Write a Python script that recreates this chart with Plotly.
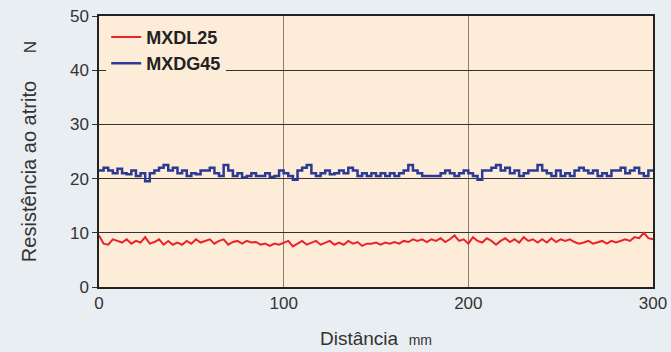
import plotly.graph_objects as go

distance = [i * 2.5 for i in range(121)]

mxdg45 = [21.5, 22, 21.5, 21, 21.8, 21, 20.8, 21.5, 20.5, 21, 19.5, 21, 21.5, 22, 22.5, 21.5,
          22, 21, 21.5, 20.5, 21, 20.8, 21.5, 21.5, 22, 21, 20.5, 22.5, 21.5, 20.5, 21, 20.2,
          20.5, 21, 20.5, 20.5, 21, 20.3, 20.5, 21.5, 21, 20.5, 19.8, 21.5, 22, 22.5, 21, 20.5,
          21, 21.5, 20.8, 21, 21.5, 21, 22, 21.5, 20.5, 21, 20.5, 21, 20.5, 21, 20.5, 21,
          20.5, 21, 21.5, 22.5, 21.5, 21, 20.5, 20.5, 20.5, 20.5, 21, 21.5, 21, 20.5, 21, 21.5,
          21, 20.5, 19.8, 21.5, 21.5, 22, 22.5, 21.5, 22, 21, 21.5, 20.5, 21, 21.5, 21.5, 22.5,
          21.5, 21, 20.5, 21.5, 20.5, 21, 20.5, 21.5, 22, 21.5, 21, 21.5, 20.5, 21, 20.5, 21.5,
          21.5, 22, 21, 21.5, 22, 21, 20.5, 21.5, 21.5]

mxdl25 = [9.5, 8, 7.8, 8.8, 8.5, 8.2, 8.8, 8, 8.5, 8.2, 9.2, 8, 8.3, 8.8, 7.8, 8.5,
          7.8, 8.2, 7.8, 8.5, 8, 8.8, 8.2, 8.5, 8.8, 8, 8.5, 8.8, 7.8, 8.3, 8.5, 8,
          8.5, 8.2, 8.3, 7.8, 8, 7.6, 8, 7.8, 8.2, 8.5, 7.5, 8, 8.5, 7.8, 8.2, 8.5,
          7.8, 8.2, 8.5, 7.8, 8.2, 7.8, 8.5, 8, 8.3, 7.6, 8, 8, 8.2, 7.8, 8.2, 8,
          8.3, 8, 8.5, 8.3, 8.8, 8.5, 8.8, 8.3, 8.8, 8.5, 9, 8.3, 8.8, 9.5, 8.5, 8.8,
          8, 9.2, 8.5, 8.2, 9, 8.5, 7.8, 8.5, 9, 8.3, 8.8, 8.2, 9.2, 8.5, 8.8, 8.2,
          8.8, 8.2, 9, 8.3, 8.8, 8.5, 8.8, 8.3, 8, 8.2, 8.5, 8, 8.3, 8.5, 8, 8.5,
          8.2, 8.5, 8.8, 8.5, 9.2, 9, 10, 9, 8.8]

x_ticks = [0, 100, 200, 300]
y_ticks = [0, 10, 20, 30, 40, 50]

FONT = "Liberation Sans Narrow, Liberation Sans, Arial, sans-serif"

fig = go.Figure()
fig.add_trace(go.Scatter(x=distance, y=mxdl25, mode="lines", name="<b>MXDL25</b>",
                         line=dict(color="#e8232a", width=2)))
fig.add_trace(go.Scatter(x=distance, y=mxdg45, mode="lines", name="<b>MXDG45</b>",
                         line=dict(color="#2b3a94", width=2.5, shape="hv")))

axis_font = dict(family=FONT, size=17, color="#333333")

fig.update_layout(
    width=671, height=352,
    margin=dict(l=99, r=18, t=16, b=65, autoexpand=False),
    paper_bgcolor="#e8eef2",
    plot_bgcolor="#fdecd8",
    font=axis_font,
    showlegend=True,
    legend=dict(x=0.013, y=0.99, xanchor="left", yanchor="top",
                bgcolor="#fdecd8", borderwidth=0,
                font=dict(family="Liberation Sans, Arial, sans-serif", size=18, color="#222222"),
                tracegroupgap=0, itemwidth=30),
    xaxis=dict(range=[0, 300], tickvals=x_ticks, ticktext=[str(v) for v in x_ticks],
               showgrid=True, gridcolor="#8a7f70", gridwidth=1.2,
               showline=True, linecolor="#222222", linewidth=1.5, mirror=True,
               ticks="", zeroline=False, tickfont=axis_font, automargin=False,
               title=dict(text="Distância  <span style='font-size:14px'>mm</span>",
                          font=dict(family=FONT, size=19, color="#333333"),
                          standoff=20)),
    yaxis=dict(range=[0, 50], tickvals=y_ticks, ticktext=[str(v) for v in y_ticks],
               showgrid=True, gridcolor="#333333", gridwidth=1.2,
               showline=True, linecolor="#222222", linewidth=1.5, mirror=True,
               ticks="outside", ticklen=5, tickcolor="#333333", zeroline=False,
               tickfont=axis_font, automargin=False,
               title=dict(text="Resistência ao atrito     <span style='font-size:17px'>N</span>",
                          font=dict(family=FONT, size=20, color="#333333"),
                          standoff=28)),
)
fig.write_html("out.html", config={"displayModeBar": False})

with open("out.html", "r", encoding="utf-8") as f:
    html = f.read()
html = html.replace("<head>", "<head><style>html,body{margin:0;padding:0;background:#e8eef2;}</style>", 1)
with open("out.html", "w", encoding="utf-8") as f:
    f.write(html)
